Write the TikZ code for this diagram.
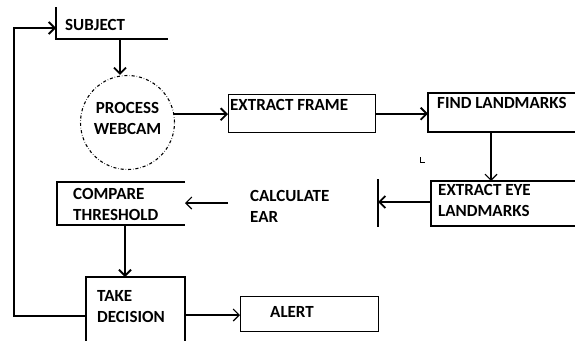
\documentclass[tikz,border=0pt]{standalone}
\usepackage{fontspec}
\setmainfont{Carlito}
\usetikzlibrary{arrows.meta}
\begin{document}
\begin{tikzpicture}[x=1pt,y=-1pt,
  lbl/.style={anchor=west, inner sep=0pt, font=\fontsize{17}{21}\selectfont\bfseries, align=left},
  boxln/.style={line width=1.4pt},
  thk/.style={line width=1.9pt},
  thn/.style={line width=1.1pt},
  tip/.style={-{Straight Barb[length=6pt,width=12pt]}},
]
\useasboundingbox[fill=white] (0,0) rectangle (575,340);
% SUBJECT
\coordinate (s1) at (56,7);
\coordinate (s2) at (56,39);
\coordinate (s3) at (168,39);
\draw[boxln] (s1) -- (s2) -- (s3);
\node[lbl] (tsub) at (65,25) {SUBJECT};
\coordinate (sb) at (120,39);
% PROCESS WEBCAM
\node[draw, circle, minimum size=94pt, inner sep=0pt, dash dot, thn] (cam) at (127.5,122.5) {};
\node[lbl, align=center, anchor=center] (tcam) at (127.5,118) {PROCESS\\WEBCAM};
% EXTRACT FRAME
\node[draw, boxln, anchor=north west, minimum width=147pt, minimum height=38pt, inner sep=0pt] (frame) at (228,94) {};
\node[lbl] (tframe) at (230,105) {EXTRACT FRAME};
% FIND LANDMARKS
\coordinate (f1) at (575,93);
\coordinate (f2) at (428,93);
\coordinate (f3) at (428,132);
\coordinate (f4) at (575,132);
\draw[boxln] (f1) -- (f2) -- (f3) -- (f4);
\node[lbl] (tfind) at (437,103) {FIND LANDMARKS};
\coordinate (fd) at (491,132);
% EXTRACT EYE LANDMARKS
\coordinate (e1) at (575,181);
\coordinate (e2) at (431,181);
\coordinate (e3) at (431,226);
\coordinate (e4) at (575,226);
\draw[boxln] (e1) -- (e2) -- (e3) -- (e4);
\node[lbl] (teye) at (438,200) {EXTRACT EYE\\LANDMARKS};
\coordinate (el) at (431,202);
% bar
\coordinate (bt) at (378,179);
\coordinate (bb) at (378,227);
\draw[boxln] (bt) -- (bb);
% small mark
\coordinate (m1) at (420,157);
\coordinate (m2) at (420,162);
\coordinate (m3) at (425,162);
\draw[line width=1pt] (m1) -- (m2) -- (m3);
% CALCULATE EAR
\node[lbl] (tcalc) at (250,206) {CALCULATE\\EAR};
\coordinate (ca) at (228,203);
% COMPARE THRESHOLD
\coordinate (c1) at (185,182);
\coordinate (c2) at (57,182);
\coordinate (c3) at (57,225);
\coordinate (c4) at (185,225);
\draw[boxln] (c1) -- (c2) -- (c3) -- (c4);
\node[lbl] (tcmp) at (73,204.5) {COMPARE\\THRESHOLD};
\coordinate (cb) at (125,225);
% TAKE DECISION
\coordinate (t1) at (86,341);
\coordinate (t2) at (86,277);
\coordinate (t3) at (185,277);
\coordinate (t4) at (185,341);
\draw[boxln] (t1) -- (t2) -- (t3) -- (t4);
\node[lbl] (ttake) at (97,306.5) {TAKE\\DECISION};
\coordinate (tr) at (185,315);
\coordinate (tl) at (86,316);
% ALERT
\node[draw, boxln, anchor=north west, minimum width=138pt, minimum height=35pt, inner sep=0pt] (alert) at (240,296) {};
\node[lbl] (talert) at (270,312) {ALERT};
% loop
\coordinate (lb) at (14,316);
\coordinate (lt) at (14,28);
\coordinate (sl) at (56,28);
% connectors
\draw[thk,tip] (sb) -- (sb |- cam.north);
\draw[thk,tip] (cam.10) -- (cam.10 -| frame.west);
\draw[thk,tip] (frame.east) -- (frame.east -| f2);
\draw[thn,tip] (fd) -- (fd |- e2);
\draw[thk,tip] (el) -- (el -| bt);
\draw[thn,tip] (ca) -- (ca -| c1);
\draw[thk,tip] (cb) -- (cb |- t2);
\draw[thn,tip] (tr) -- (tr -| alert.west);
\draw[thk,tip] (tl) -- (lb) -- (lt) -- (sl);
\end{tikzpicture}
\end{document}
